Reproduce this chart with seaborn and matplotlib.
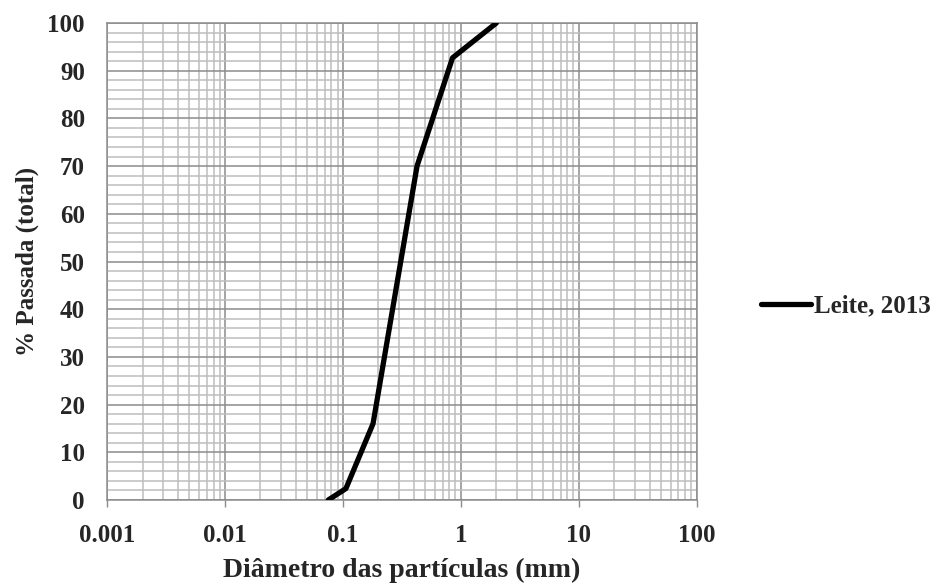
import pandas as pd
import numpy as np
import matplotlib
matplotlib.use("Agg")
import matplotlib.pyplot as plt
import seaborn as sns
from matplotlib.ticker import FixedLocator, LogLocator, NullFormatter

# values
diametro = [0.075, 0.106, 0.18, 0.425, 0.85, 2.0]
passada = [0, 2.4, 16, 70, 92.7, 100]
serie = "Leite, 2013"
x_ticks = [0.001, 0.01, 0.1, 1, 10, 100]
x_tick_labels = ["0.001", "0.01", "0.1", "1", "10", "100"]
y_ticks = list(range(0, 101, 10))

df = pd.DataFrame({"d": diametro, "p": passada, "serie": serie})

sns.set_style("white")
plt.rcParams["font.family"] = ["Liberation Serif", "DejaVu Serif"]
plt.rcParams["font.weight"] = "bold"

fig = plt.figure(figsize=(9.39, 5.84), dpi=100)
ax = fig.add_axes([0.114, 0.1438, 0.628, 0.8168])

sns.lineplot(data=df, x="d", y="p", hue="serie", palette=["black"],
             linewidth=3.8, ax=ax, legend=False, zorder=5)

ax.set_xscale("log")
ax.set_xlim(0.001, 100)
ax.set_ylim(0, 100)

ax.xaxis.set_major_locator(FixedLocator(x_ticks))
ax.set_xticklabels(x_tick_labels)
ax.xaxis.set_minor_locator(LogLocator(base=10, subs=np.arange(2, 10)))
ax.xaxis.set_minor_formatter(NullFormatter())
ax.set_yticks(y_ticks)
ax.yaxis.set_minor_locator(FixedLocator(range(0, 101, 2)))

ax.grid(which="major", color="#8c8c8c", linewidth=1.1)
ax.grid(which="minor", color="#bdbdbd", linewidth=1.1)
ax.set_axisbelow(True)

ax.tick_params(axis="x", which="major", length=5, width=1, color="#8c8c8c",
               labelsize=18, pad=12, direction="out", bottom=True)
ax.tick_params(axis="x", which="minor", length=0)
ax.tick_params(axis="y", which="both", length=0, labelsize=18, pad=16)
for lab in ax.get_xticklabels() + ax.get_yticklabels():
    lab.set_fontweight("bold")

for s in ax.spines.values():
    s.set_color("#8c8c8c")
    s.set_linewidth(1.1)

ax.set_xlabel("Diâmetro das partículas (mm)", fontsize=20, fontweight="bold", labelpad=8)
ax.set_ylabel("% Passada (total)", fontsize=18, fontweight="bold", labelpad=6)

handle = plt.Line2D([], [], color="black", linewidth=3.8)
fig.legend([handle], [serie], loc="center left", bbox_to_anchor=(0.786, 0.476),
           frameon=False, handlelength=2.0, handletextpad=0.15,
           prop={"size": 18, "weight": "bold"})

fig.savefig("out.png", dpi=100)
plt.close(fig)
